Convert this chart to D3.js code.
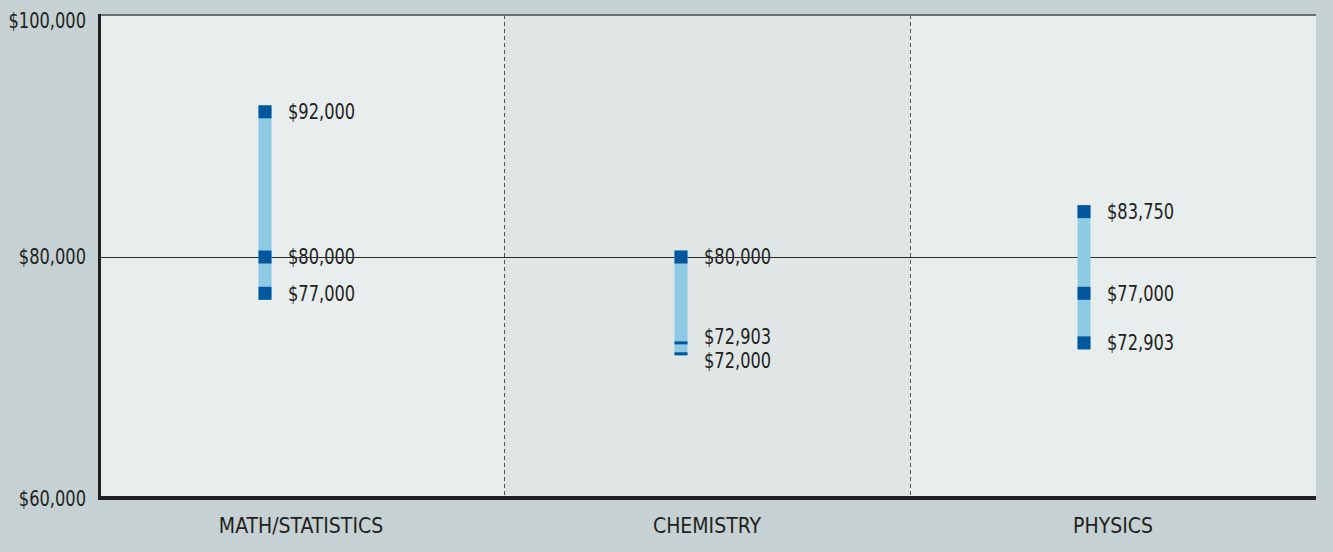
<!DOCTYPE html>
<meta charset="utf-8">
<title>Salary ranges by field</title>
<style>
body { margin: 0; background-color: #c5d1d2; }
text { font-family: 'Liberation Sans Narrow', 'DejaVu Sans Condensed', sans-serif; fill: #231f20; }
</style>
<body>
<script src="https://d3js.org/d3.v7.min.js"></script>
<script>
// data
var categories = ["MATH/STATISTICS", "CHEMISTRY", "PHYSICS"];
var mathValues = [92000, 80000, 77000];
var chemValues = [80000, 72903, 72000];
var physValues = [83750, 77000, 72903];
var yTicks = [60000, 80000, 100000];

var series = [mathValues, chemValues, physValues];

var width = 1333, height = 552;
var plotL = 98, plotR = 1316, plotT = 15, plotB = 499;
var squeeze = 0.86; // narrow the number text

var svg = d3.select("body").append("svg")
    .attr("width", width)
    .attr("height", height);

var x = d3.scaleBand()
    .domain(categories)
    .range([plotL, plotR]);

var y = d3.scaleLinear()
    .domain([60000, 100000])
    .range([plotB, plotT]);

var money = d3.format("$,");

// plot panels
svg.selectAll("rect.panel")
    .data(categories)
    .enter().append("rect")
    .attr("class", "panel")
    .attr("x", function(d) { return x(d); })
    .attr("y", plotT)
    .attr("width", x.bandwidth())
    .attr("height", plotB - plotT)
    .attr("fill", function(d, i) { return i == 1 ? "#e0e6e6" : "#e8eded"; });

// dashed dividers
svg.selectAll("line.div")
    .data(categories.slice(1))
    .enter().append("line")
    .attr("x1", function(d) { return x(d) + 0.5; })
    .attr("x2", function(d) { return x(d) + 0.5; })
    .attr("y1", plotT)
    .attr("y2", plotB)
    .attr("stroke", "#555")
    .attr("stroke-width", 1)
    .attr("stroke-dasharray", "4,3");

// top border
svg.append("line")
    .attr("x1", plotL).attr("x2", plotR)
    .attr("y1", plotT).attr("y2", plotT)
    .attr("stroke", "#6b7071")
    .attr("stroke-width", 2);

// y tick labels
svg.selectAll("text.ytick")
    .data(yTicks)
    .enter().append("text")
    .attr("class", "ytick")
    .attr("transform", function(d) {
        return "translate(86," + Math.max(y(d), 21) + ") scale(" + squeeze + ",1)";
    })
    .attr("dy", "0.35em")
    .attr("text-anchor", "end")
    .attr("font-size", 21)
    .text(function(d) { return money(d); });

// category labels
svg.selectAll("text.cat")
    .data(categories)
    .enter().append("text")
    .attr("class", "cat")
    .attr("x", function(d) { return x(d) + x.bandwidth() / 2; })
    .attr("y", 526)
    .attr("dy", "0.35em")
    .attr("text-anchor", "middle")
    .attr("font-size", 21)
    .text(function(d) { return d; });

var barW = 13;
var barX = [265, 681, 1084];
var labelLayer = svg.append("g");
var gridLayer = svg.append("g");
var barLayer = svg.append("g");

// mid gridline
gridLayer.append("line")
    .attr("x1", plotL).attr("x2", plotR)
    .attr("y1", y(80000) + 0.5).attr("y2", y(80000) + 0.5)
    .attr("stroke", "#2b2b2b")
    .attr("stroke-width", 1);

series.forEach(function(vals, i) {
    var cx = barX[i];
    var g = barLayer.append("g");
    var hi = d3.max(vals), lo = d3.min(vals);

    var sorted = vals.slice().sort(function(a, b) { return b - a; });
    // thin marks when neighbours are too close
    var marks = sorted.map(function(v, k) {
        var thin = false;
        if (k > 0 && y(v) - y(sorted[k - 1]) < barW) thin = true;
        if (k < sorted.length - 1 && y(sorted[k + 1]) - y(v) < barW) thin = true;
        return { v: v, h: thin ? 3 : barW };
    });

    var topM = marks[0], botM = marks[marks.length - 1];
    g.append("rect")
        .attr("x", cx - barW / 2)
        .attr("y", y(hi) - topM.h / 2)
        .attr("width", barW)
        .attr("height", y(lo) + botM.h / 2 - (y(hi) - topM.h / 2))
        .attr("fill", "#8ecae3");

    g.selectAll("rect.m")
        .data(marks)
        .enter().append("rect")
        .attr("class", "m")
        .attr("x", cx - barW / 2)
        .attr("y", function(d) { return y(d.v) - d.h / 2; })
        .attr("width", barW)
        .attr("height", function(d) { return d.h; })
        .attr("fill", "#00579e");

    // label positions, pushed apart
    var pos = marks.map(function(d) { return y(d.v); });
    for (var k = 1; k < pos.length; k++) {
        if (pos[k] - pos[k - 1] < 24) {
            var mid = (pos[k] + pos[k - 1]) / 2;
            pos[k - 1] = mid - 12;
            pos[k] = mid + 12;
        }
    }

    labelLayer.selectAll(null)
        .data(marks)
        .enter().append("text")
        .attr("transform", function(d, k) {
            return "translate(" + (cx + 23) + "," + pos[k] + ") scale(" + squeeze + ",1)";
        })
        .attr("dy", "0.35em")
        .attr("font-size", 21)
        .text(function(d) { return money(d.v); });
});

// axes lines
svg.append("line")
    .attr("x1", plotL + 1.5).attr("x2", plotL + 1.5)
    .attr("y1", plotT - 1).attr("y2", plotB + 1)
    .attr("stroke", "#231f20")
    .attr("stroke-width", 3);

svg.append("line")
    .attr("x1", plotL).attr("x2", plotR)
    .attr("y1", plotB - 1).attr("y2", plotB - 1)
    .attr("stroke", "#231f20")
    .attr("stroke-width", 4);
</script>
</body>
